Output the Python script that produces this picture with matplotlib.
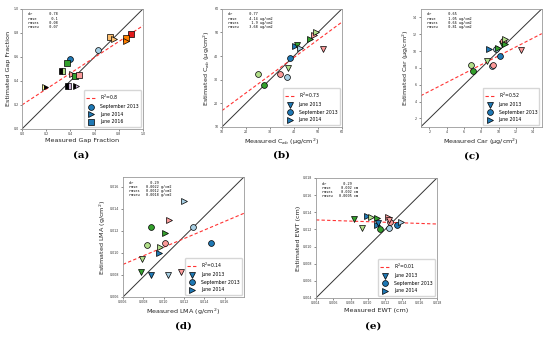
import matplotlib

matplotlib.use("Agg")
import matplotlib.pyplot as plt
from matplotlib.lines import Line2D

# Paired palette colours used per plot
BL, LB = "#1f78b4", "#a6cee3"
G, LG = "#33a02c", "#b2df8a"
PK, RD = "#fb9a99", "#e31a1c"
LO, OR = "#fdbf6f", "#ff7f00"
LV, YL = "#cab2d6", "#ffff99"

# (a) gap fraction
a_x = [0.90, 0.86, 0.86, 0.73, 0.76, 0.63, 0.40, 0.37, 0.33, 0.41, 0.44, 0.47, 0.19, 0.38, 0.45]
a_y = [0.79, 0.76, 0.73, 0.77, 0.75, 0.66, 0.58, 0.55, 0.48, 0.46, 0.44, 0.45, 0.35, 0.36, 0.36]
a_marker = ["s", "s", ">", "s", ">", "o", "o", "s", "s", ">", "s", "s", ">", "s", ">"]
a_color = [RD, OR, OR, LO, LO, LB, BL, G, LG, PK, G, PK, YL, LV, LV]
a_fill = ["full"] * 8 + ["right", "full", "full", "full", "left", "right", "right"]
a_fit = (0.66, 0.20)

# (b) Cab
b_x = [25.0, 27.6, 34.3, 37.1, 37.6, 38.2, 40.3, 41.2, 42.4, 46.7, 48.5, 49.2, 52.2]
b_y = [32.6, 27.9, 32.6, 31.3, 35.0, 39.2, 44.3, 44.8, 43.6, 47.4, 48.9, 50.2, 43.0]
b_marker = ["o", "o", "o", "o", "v", "o", ">", "v", ">", ">", ">", ">", "v"]
b_color = [LG, G, PK, LB, LG, BL, BL, G, LB, G, PK, LG, PK]
b_fit = (0.75, 9.4)

# (c) Car
c_x = [6.84, 7.0, 9.2, 9.4, 8.7, 10.2, 8.95, 9.7, 9.9, 10.4, 10.5, 10.7, 10.8, 12.6]
c_y = [8.35, 7.6, 8.2, 8.4, 8.8, 9.4, 10.3, 10.2, 10.4, 10.8, 11.2, 10.8, 11.4, 10.1]
c_marker = ["o", "o", "o", "o", "v", "o", ">", "o", ">", "v", "o", ">", ">", "v"]
c_color = [LG, G, LB, PK, LG, BL, BL, LB, G, G, PK, G, LG, PK]
c_fit = (0.526, 4.17)

# (d) LMA
d_x = [0.00787, 0.00778, 0.0088, 0.01044, 0.01166, 0.00837, 0.0088, 0.00962,
       0.00952, 0.01018, 0.01011, 0.01051, 0.01288, 0.01462, 0.01199]
d_y = [0.00948, 0.00829, 0.00798, 0.00798, 0.00829, 0.01073, 0.01238, 0.01058,
       0.00997, 0.01089, 0.01177, 0.01302, 0.01238, 0.01089, 0.01476]
d_marker = ["v", "v", "v", "v", "v", "o", "o", ">", ">", "o", ">", ">", "o", "o", ">"]
d_color = [LG, G, BL, LB, PK, LG, G, LG, BL, PK, G, PK, LB, BL, LB]
d_fit = (0.39, 0.00662)

# (e) EWT
e_x = [0.00844, 0.00933, 0.00987, 0.01033, 0.01103, 0.0111, 0.01141, 0.01238,
       0.01257, 0.0125, 0.01334, 0.01381, 0.0112, 0.0124]
e_y = [0.01318, 0.0122, 0.01357, 0.01345, 0.0133, 0.01251, 0.01204, 0.01341,
       0.0129, 0.01212, 0.01251, 0.0129, 0.0128, 0.0131]
e_marker = ["v", "v", ">", ">", ">", ">", "o", ">", "o", "o", "o", ">", "v", "v"]
e_color = [G, LG, BL, LG, G, BL, G, PK, PK, LB, BL, LB, BL, PK]
e_fit = (-0.034, 0.01324)

stats = {
    "a": ["dr        0.78", "rmse       0.1", "rmses     0.08", "rmseu     0.07"],
    "b": ["dr        0.77", "rmse      4.14 ug/cm2", "rmses      1.9 ug/cm2", "rmseu     3.68 ug/cm2"],
    "c": ["dr        0.65", "rmse      1.05 ug/cm2", "rmses     0.66 ug/cm2", "rmseu     0.81 ug/cm2"],
    "d": ["dr        0.29", "rmse    0.0022 g/cm2", "rmses   0.0012 g/cm2", "rmseu   0.0018 g/cm2"],
    "e": ["dr        0.29", "rmse     0.002 cm", "rmses    0.002 cm", "rmseu   0.0005 cm"],
}

fig = plt.figure(figsize=(5.5, 3.42), dpi=100)

panels = [
    ("a", [0.040, 0.623, 0.220, 0.351], a_x, a_y, a_marker, a_color, a_fill, a_fit,
     (0, 1), (0, 1), [0, 0.2, 0.4, 0.6, 0.8, 1.0], "{:.1f}",
     "Measured Gap Fraction", "Estimated Gap Fraction", "R$^2$=0.8",
     [("o", "September 2013"), (">", "June 2014"), ("s", "June 2016")], (81, 155)),
    ("b", [0.4036, 0.629, 0.218, 0.345], b_x, b_y, b_marker, b_color, None, b_fit,
     (10, 60), (10, 60), [10, 20, 30, 40, 50, 60], "{:.0f}",
     "Measured C$_{ab}$ (μg/cm$^2$)", "Estimated C$_{ab}$ (μg/cm$^2$)", "R$^2$=0.73",
     [("v", "June 2013"), ("o", "September 2013"), (">", "June 2014")], (281, 155)),
    ("c", [0.765, 0.629, 0.220, 0.345], c_x, c_y, c_marker, c_color, None, c_fit,
     (1, 15), (1, 15), [2, 4, 6, 8, 10, 12, 14], "{:.0f}",
     "Measured Car (μg/cm$^2$)", "Estimated Car (μg/cm$^2$)", "R$^2$=0.52",
     [("v", "June 2013"), ("o", "September 2013"), (">", "June 2014")], (472, 156)),
    ("d", [0.2236, 0.1316, 0.220, 0.351], d_x, d_y, d_marker, d_color, None, d_fit,
     (0.006, 0.0179), (0.006, 0.0169), [0.006, 0.008, 0.010, 0.012, 0.014, 0.016], "{:.3f}",
     "Measured LMA (g/cm$^2$)", "Estimated LMA (g/cm$^2$)", "R$^2$=0.14",
     [("v", "June 2013"), ("o", "September 2013"), (">", "June 2014")], (183, 326)),
    ("e", [0.5745, 0.1287, 0.220, 0.351], e_x, e_y, e_marker, e_color, None, e_fit,
     (0.004, 0.018), (0.004, 0.018), [0.004, 0.006, 0.008, 0.010, 0.012, 0.014, 0.016, 0.018], "{:.3f}",
     "Measured EWT (cm)", "Estimated EWT (cm)", "R$^2$=0.01",
     [("v", "June 2013"), ("o", "September 2013"), (">", "June 2014")], (373, 326)),
]

for (key, rect, xs, ys, mks, cols, fills, fit, xlim, ylim, ticks, fmt,
     xlabel, ylabel, r2, leg, lab_pos) in panels:
    ax = fig.add_axes(rect)
    ax.set_xlim(*xlim)
    ax.set_ylim(*ylim)
    ax.plot([0, 1], [0, 1], color="#333333", lw=0.7, transform=ax.transAxes, zorder=1)
    ax.axline((0, fit[1]), slope=fit[0], color="#ff3333", ls="--", lw=0.8, zorder=2,
              dashes=(3, 2))
    for i in range(len(xs)):
        fs = fills[i] if fills else "full"
        ax.plot(xs[i], ys[i], marker=mks[i], ls="none", ms=4.2, mfc=cols[i],
                mec="black", mew=0.5, fillstyle=fs, markerfacecoloralt="black", zorder=3)
    ax.set_xticks([t for t in ticks if xlim[0] <= t <= xlim[1] + 1e-9])
    ax.set_yticks([t for t in ticks if ylim[0] <= t <= ylim[1] + 1e-9])
    ax.set_xticklabels([fmt.format(t) for t in ax.get_xticks()])
    ax.set_yticklabels([fmt.format(t) for t in ax.get_yticks()])
    ax.tick_params(labelsize=2.3, length=1.5, width=0.4, pad=1, colors="#333333")
    for sp in ax.spines.values():
        sp.set_linewidth(0.6)
        sp.set_color("#999999")
    ax.set_xlabel(xlabel, fontsize=4.6, labelpad=1.5, color="#222222")
    ax.set_ylabel(ylabel, fontsize=4.6, labelpad=1.5, color="#222222")
    ax.text(0.05, 0.97, "\n".join(stats[key]), transform=ax.transAxes, va="top", ha="left",
            family="DejaVu Sans Mono", fontsize=2.5, linespacing=1.1)
    handles = [Line2D([], [], color="#ff3333", ls="--", lw=0.8, dashes=(3, 2))]
    labels = [r2]
    for m, l in leg:
        handles.append(Line2D([], [], marker=m, ls="none", ms=4.2, mfc=BL, mec="black", mew=0.5))
        labels.append(l)
    ax.legend(handles, labels, loc="lower right", fontsize=3.3, handlelength=2.2,
              borderpad=0.5, labelspacing=0.55, handletextpad=0.8, framealpha=0.8,
              edgecolor="#cccccc", fancybox=True)
    fig.text(lab_pos[0] / 550, 1 - lab_pos[1] / 342, "(%s)" % key, ha="center", va="center",
             family="DejaVu Serif", fontweight="bold", fontsize=7.5)

fig.savefig("out.png", dpi=100)
